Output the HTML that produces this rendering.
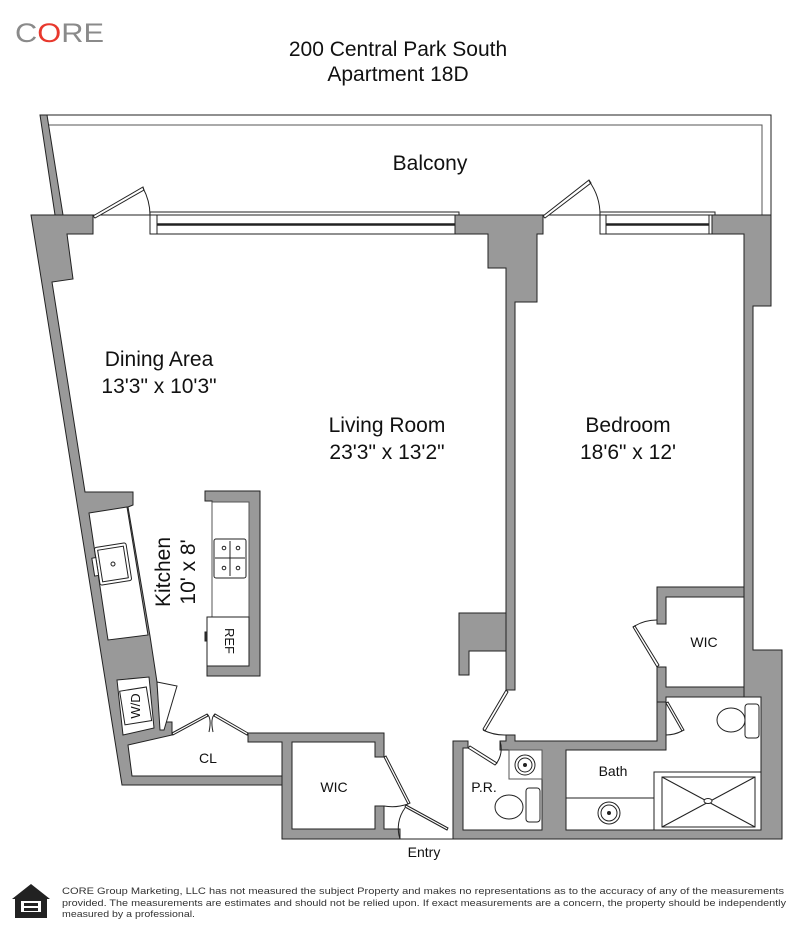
<!DOCTYPE html>
<html><head><meta charset="utf-8"><style>
html,body{margin:0;padding:0;background:#fff;}
svg{display:block;font-family:"Liberation Sans",Arial,sans-serif;}
</style></head><body>
<svg width="800" height="940" viewBox="0 0 800 940" xmlns="http://www.w3.org/2000/svg">
<rect width="800" height="940" fill="#fff"/>
<text x="15" y="42" font-size="27" fill="#8a8a8a" textLength="89" lengthAdjust="spacingAndGlyphs">C<tspan fill="#e8382d">O</tspan>RE</text>
<text x="398" y="56" font-size="21" text-anchor="middle" fill="#111">200 Central Park South</text>
<text x="398" y="81" font-size="21" text-anchor="middle" fill="#111">Apartment 18D</text>

<g stroke="#222" stroke-width="1" fill="#999">
<polyline points="47,115 771,115 771,215" fill="none"/>
<polyline points="49,125 762,125 762,215" fill="none" stroke="#555"/>
<polygon points="40,115 47,115 63,215 55,215"/>
<polygon points="31,215 93,215 93,234 67,234 73,279 52,282 85,492 133,492 133,505 128,507 150,636 157,682 160,722 172,722 172,735 128,745 132,776 283,776 283,785 122,785"/>
<polygon points="455,215 543,215 543,234 537,234 537,302 515,302 515,690 506,690 506,268 488,268 488,234 455,234"/>
<polygon points="712,215 771,215 771,306 753,306 753,650 782,650 782,839 453,839 453,741 468,741 468,748 463,748 463,830 542,830 542,750 500,750 500,741 506,741 506,735 515,735 515,741 657,741 657,702 666,702 666,750 566,750 566,830 761,830 761,697 744,697 744,234 712,234"/>
<polygon points="657,587 744,587 744,597 666,597 666,624 657,624"/>
<polygon points="657,667 666,667 666,687 744,687 744,697 666,697 666,702 657,702"/>
<polygon points="459,613 506,613 506,651 469,651 469,675 459,675"/>
<polygon points="248,733 384,733 384,757 375,757 375,742 292,742 292,829 375,829 375,806 384,806 384,829 400,829 400,839 282,839 282,742 248,742"/>
<polygon points="205,491 260,491 260,676 207,676 207,666 249,666 249,502 212,502 212,501 205,501"/>
</g>

<g stroke="#222" fill="#fff">
<rect x="150" y="215" width="305" height="19"/>
<line x1="157" y1="224.5" x2="455" y2="224.5" stroke-width="2.5"/>
<line x1="157" y1="215" x2="157" y2="234"/>
<polyline points="150,215 150,212 459,212 459,215" fill="none"/>
<rect x="600" y="215" width="112" height="19"/>
<line x1="606" y1="224.5" x2="709" y2="224.5" stroke-width="2.5"/>
<line x1="606" y1="215" x2="606" y2="234"/><line x1="709" y1="215" x2="709" y2="234"/>
<polyline points="600,215 600,212 715,212 715,215" fill="none"/>
<line x1="93" y1="215" x2="150" y2="215"/>
<line x1="543" y1="215" x2="600" y2="215"/>
</g>
<g stroke="#222" fill="none" stroke-width="1">
<polygon points="93,216 143,187 144,190 95,218" fill="#fff"/>
<path d="M143,188 A57,57 0 0 1 150,215"/>
<polygon points="543,216 589,180 591,183 545,218" fill="#fff"/>
<path d="M589,181 A57,57 0 0 1 600,215"/>
<polygon points="506,690 483,729 485,731 508,692" fill="#fff"/>
<path d="M483,730 A48,48 0 0 0 506,735"/>
<polygon points="657,667 633,627 635,626 659,665" fill="#fff"/>
<path d="M633,627 A44,44 0 0 1 657,620"/>
<polygon points="666,703 682,731 684,730 668,702" fill="#fff"/>
<path d="M682,731 A35,35 0 0 1 666,735"/>
<polygon points="468,748 495,765 497,763 470,746" fill="#fff"/>
<path d="M496,764 A25,25 0 0 0 500,741"/>
<polygon points="384,757 408,804 410,803 386,756" fill="#fff"/>
<path d="M408,804 A48,48 0 0 1 384,806"/>
<polygon points="405,807 447,830 448,828 406,805" fill="#fff"/>
<path d="M400,839 A34,34 0 0 1 405,808"/>
<line x1="400" y1="839" x2="453" y2="839"/>
<polygon points="172,733 207,714 208,716 173,735" fill="#fff"/>
<polygon points="248,733 215,714 214,716 247,735" fill="#fff"/>
<path d="M207,714 q5,4 2,18 M215,714 q-5,4 -2,18"/>
<polygon points="157,682 177,686 164,730 160,730" fill="#fff"/>
</g>

<g stroke="#222" fill="#fff">
<polygon points="89,513 127,507 148,635 108,640"/>
<g transform="rotate(-9 113 564)">
<rect x="97" y="545" width="32" height="38" rx="2"/>
<rect x="100" y="548" width="26" height="32" fill="none"/>
<circle cx="113" cy="564" r="2"/>
<rect x="93" y="555" width="4" height="18"/>
</g>
<polygon points="117,680 149,677 154,728 123,735"/>
<g transform="rotate(-9 135 705)">
<rect x="122" y="689" width="27" height="34"/>
</g>
<rect x="212" y="502" width="37" height="164" stroke="#555"/>
<rect x="214" y="539" width="32" height="39" rx="2"/>
<line x1="230" y1="541" x2="230" y2="576"/><line x1="215" y1="558" x2="245" y2="558"/>
<circle cx="224" cy="548" r="1.8"/><circle cx="238" cy="548" r="1.8"/>
<circle cx="224" cy="568" r="1.8"/><circle cx="238" cy="568" r="1.8"/>
<rect x="207" y="617" width="42" height="49"/>
<rect x="205" y="632" width="2" height="9" fill="#333"/>
</g>

<g stroke="#222" fill="#fff">
<rect x="509" y="750" width="33" height="29" stroke="#555"/>
<circle cx="525" cy="765" r="10"/><circle cx="525" cy="765" r="7"/><circle cx="525" cy="765" r="1.5" fill="#222"/>
<ellipse cx="509" cy="807" rx="14" ry="12"/>
<rect x="526" y="788" width="14" height="34" rx="3"/>
<line x1="566" y1="798" x2="654" y2="798"/>
<circle cx="609" cy="813" r="11"/><circle cx="609" cy="813" r="8"/><circle cx="609" cy="813" r="1.5" fill="#222"/>
<ellipse cx="731" cy="720" rx="14" ry="12"/>
<rect x="745" y="704" width="14" height="34" rx="3"/>
<rect x="654" y="772" width="107" height="58"/>
<rect x="662" y="777" width="93" height="50"/>
<line x1="662" y1="777" x2="755" y2="827"/><line x1="755" y1="777" x2="662" y2="827"/>
<ellipse cx="708" cy="801" rx="4" ry="2.5"/>
</g>

<g fill="#111" font-size="21" text-anchor="middle">
<text x="430" y="170">Balcony</text>
<text x="159" y="366">Dining Area</text>
<text x="159" y="393">13'3" x 10'3"</text>
<text x="387" y="432">Living Room</text>
<text x="387" y="459">23'3" x 13'2"</text>
<text x="628" y="432">Bedroom</text>
<text x="628" y="459">18'6" x 12'</text>
<text transform="translate(170,572) rotate(-90)">Kitchen</text>
<text transform="translate(195,572) rotate(-90)">10' x 8'</text>
</g>
<g fill="#111" font-size="14" text-anchor="middle">
<text x="704" y="647">WIC</text>
<text x="334" y="792">WIC</text>
<text x="208" y="763">CL</text>
<text x="613" y="776">Bath</text>
<text x="484" y="792">P.R.</text>
<text x="424" y="857">Entry</text>
<text transform="translate(225,641) rotate(90)" font-size="13">REF</text>
<text transform="translate(140,706) rotate(-90)" font-size="13">W/D</text>
</g>

<g fill="#222">
<polygon points="31,884 12,899 15,899 15,918 47,918 47,899 50,899"/>
<rect x="21" y="901" width="20" height="11" fill="#fff"/>
<rect x="24" y="903" width="14" height="3"/>
<rect x="24" y="908" width="14" height="3"/>
</g>
<g fill="#333" font-size="9.3">
<text x="62" y="894" textLength="722" lengthAdjust="spacingAndGlyphs">CORE Group Marketing, LLC has not measured the subject Property and makes no representations as to the accuracy of any of the measurements</text>
<text x="62" y="906" textLength="724" lengthAdjust="spacingAndGlyphs">provided. The measurements are estimates and should not be relied upon. If exact measurements are a concern, the property should be independently</text>
<text x="62" y="917" textLength="133" lengthAdjust="spacingAndGlyphs">measured by a professional.</text>
</g>
</svg>
</body></html>
